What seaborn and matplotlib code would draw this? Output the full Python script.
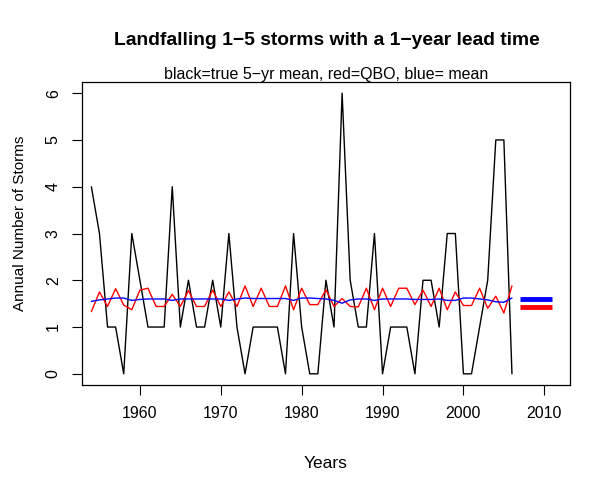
import numpy as np
import pandas as pd
import seaborn as sns
import matplotlib
matplotlib.use("Agg")
import matplotlib.pyplot as plt

# years and series
years = list(range(1954, 2007))
true_mean = [4, 3, 1, 1, 0, 3, 2, 1, 1, 1, 4, 1, 2, 1, 1, 2, 1, 3, 1, 0,
             1, 1, 1, 1, 0, 3, 1, 0, 0, 2, 1, 6, 2, 1, 1, 3, 0, 1, 1, 1,
             0, 2, 2, 1, 3, 3, 0, 0, 1, 2, 5, 5, 0]
qbo = [1.33, 1.75, 1.44, 1.82, 1.47, 1.37, 1.79, 1.83, 1.44, 1.44,
       1.70, 1.44, 1.78, 1.44, 1.44, 1.79, 1.44, 1.75, 1.44, 1.88,
       1.44, 1.83, 1.44, 1.44, 1.88, 1.37, 1.83, 1.48, 1.48, 1.80,
       1.44, 1.61, 1.44, 1.43, 1.83, 1.37, 1.83, 1.44, 1.83, 1.83,
       1.48, 1.79, 1.44, 1.83, 1.37, 1.75, 1.46, 1.46, 1.83, 1.40,
       1.66, 1.30, 1.88]
clim_mean = [1.55, 1.58, 1.60, 1.62, 1.62, 1.57, 1.59, 1.60, 1.60, 1.60,
             1.57, 1.60, 1.60, 1.60, 1.60, 1.60, 1.60, 1.57, 1.60, 1.62,
             1.61, 1.61, 1.61, 1.61, 1.61, 1.57, 1.62, 1.62, 1.61, 1.60,
             1.57, 1.51, 1.58, 1.60, 1.60, 1.57, 1.60, 1.60, 1.60, 1.60,
             1.59, 1.59, 1.59, 1.60, 1.57, 1.57, 1.62, 1.62, 1.60, 1.58,
             1.54, 1.53, 1.62]

# forecast segments beyond the record
fc_years = [2007, 2011]
fc_mean = [1.60, 1.60]
fc_qbo = [1.42, 1.42]

df = pd.DataFrame({"Year": years, "true": true_mean, "qbo": qbo, "mean": clim_mean})
fc = pd.DataFrame({"Year": fc_years, "mean": fc_mean, "qbo": fc_qbo})

sns.set_theme(style="white")
plt.rcParams["font.family"] = ["Liberation Sans", "DejaVu Sans"]
plt.rcParams["text.color"] = "black"
plt.rcParams["axes.labelcolor"] = "black"
plt.rcParams["xtick.color"] = "black"
plt.rcParams["ytick.color"] = "black"

fig = plt.figure(figsize=(6.14, 4.88), dpi=100)
ax = fig.add_axes([0.133, 0.211, 0.795, 0.621])

sns.lineplot(data=df, x="Year", y="true", color="black", linewidth=1, ax=ax)
sns.lineplot(data=df, x="Year", y="qbo", color="red", linewidth=1, ax=ax)
sns.lineplot(data=df, x="Year", y="mean", color="blue", linewidth=1, ax=ax)
sns.lineplot(data=fc, x="Year", y="mean", color="blue", linewidth=3.5,
             solid_capstyle="butt", ax=ax)
sns.lineplot(data=fc, x="Year", y="qbo", color="red", linewidth=3.5,
             solid_capstyle="butt", ax=ax)

ax.set_xlim(1952.8, 2013.15)
ax.set_ylim(-0.24, 6.24)
ax.set_xticks([1960, 1970, 1980, 1990, 2000, 2010])
ax.set_yticks(range(0, 7))
ax.tick_params(axis="both", direction="out", length=7, width=0.8,
               color="black", labelcolor="black", labelsize=11.5, pad=8,
               bottom=True, left=True)
plt.setp(ax.get_yticklabels(), rotation=90, va="center")

for s in ax.spines.values():
    s.set_visible(True)
    s.set_color("black")
    s.set_linewidth(0.9)

ax.set_xlabel("Years", fontsize=12.5)
ax.xaxis.set_label_coords(0.5, -0.233)
ax.set_ylabel("Annual Number of Storms", fontsize=11)
ax.yaxis.set_label_coords(-0.112, 0.535)
fig.text(0.532, 0.916, "Landfalling 1\u22125 storms with a 1\u2212year lead time",
         ha="center", va="center", fontsize=13.9, fontweight="bold")
ax.set_title("black=true 5\u2212yr mean, red=QBO, blue= mean", fontsize=11.5, pad=2.5)

fig.savefig("out.png", dpi=100)
